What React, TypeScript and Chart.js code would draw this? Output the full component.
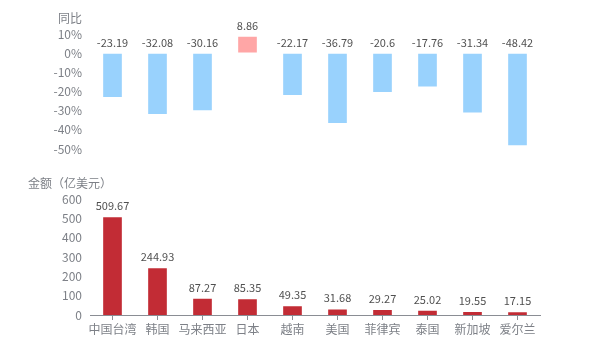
import React, { useEffect, useRef } from "react";
import { Chart, registerables } from "chart.js";

Chart.register(...registerables);

const categories = ["中国台湾", "韩国", "马来西亚", "日本", "越南", "美国", "菲律宾", "泰国", "新加坡", "爱尔兰"];
const yoyValues = [-23.19, -32.08, -30.16, 8.86, -22.17, -36.79, -20.6, -17.76, -31.34, -48.42];
const amountValues = [509.67, 244.93, 87.27, 85.35, 49.35, 31.68, 29.27, 25.02, 19.55, 17.15];
const yoyTitle = "同比";
const amountTitle = "金额（亿美元）";

const FONT = "'Noto Sans CJK SC', 'Noto Sans', sans-serif";
const TICK_COLOR = "#7d8087";
const LABEL_COLOR = "#505050";

const valueLabels = {
  id: "valueLabels",
  afterDatasetsDraw(chart: any) {
    const ctx = chart.ctx;
    const meta = chart.getDatasetMeta(0);
    const data = chart.data.datasets[0].data as number[];
    ctx.save();
    ctx.font = `11px ${FONT}`;
    ctx.fillStyle = LABEL_COLOR;
    ctx.textAlign = "center";
    ctx.textBaseline = "alphabetic";
    meta.data.forEach((el: any, i: number) => {
      const top = Math.min(el.y, el.base);
      ctx.fillText(String(data[i]), el.x, top - 6.5);
    });
    ctx.restore();
  },
};

function yAxis(min: number, max: number, step: number, suffix: string) {
  return {
    min,
    max,
    border: { display: false },
    grid: { display: false, drawTicks: false },
    ticks: {
      stepSize: step,
      padding: 8,
      color: TICK_COLOR,
      font: { family: FONT, size: 12 },
      callback: (v: any) => v + suffix,
    },
    afterFit: (s: any) => {
      s.width = 90;
    },
  };
}

export default function App() {
  const topRef = useRef<HTMLCanvasElement>(null);
  const botRef = useRef<HTMLCanvasElement>(null);

  useEffect(() => {
    const top = new Chart(topRef.current!, {
      type: "bar",
      data: {
        labels: categories,
        datasets: [
          {
            data: yoyValues,
            backgroundColor: yoyValues.map((v) => (v >= 0 ? "#ffa6a6" : "#99d2fd")),
            borderColor: "rgba(255,255,255,0.55)",
            borderWidth: 1,
            borderSkipped: false,
            barThickness: 20,
          },
        ],
      },
      options: {
        responsive: false,
        animation: false,
        devicePixelRatio: 1,
        layout: { padding: { top: 34, bottom: 21, left: 0, right: 60 } },
        plugins: { legend: { display: false }, tooltip: { enabled: false } },
        scales: {
          x: { display: false },
          y: yAxis(-50, 10, 10, "%") as any,
        },
      },
      plugins: [valueLabels],
    });

    const bot = new Chart(botRef.current!, {
      type: "bar",
      data: {
        labels: categories,
        datasets: [
          {
            data: amountValues,
            backgroundColor: "#c22c35",
            borderColor: "rgba(255,255,255,0.4)",
            borderWidth: 1,
            borderSkipped: "bottom",
            barThickness: 20,
          },
        ],
      },
      options: {
        responsive: false,
        animation: false,
        devicePixelRatio: 1,
        layout: { padding: { top: 29, bottom: 0, left: 0, right: 60 } },
        plugins: { legend: { display: false }, tooltip: { enabled: false } },
        scales: {
          x: {
            border: { display: true, color: "#8a8d94", width: 1 },
            grid: {
              offset: false,
              drawOnChartArea: false,
              drawTicks: true,
              tickLength: 5,
              color: "#8a8d94",
            },
            ticks: {
              autoSkip: false,
              maxRotation: 0,
              padding: 2,
              color: TICK_COLOR,
              font: { family: FONT, size: 12 },
            },
            afterFit: (s: any) => {
              s.height = 35;
            },
          } as any,
          y: yAxis(0, 600, 100, "") as any,
        },
      },
      plugins: [valueLabels],
    });

    return () => {
      top.destroy();
      bot.destroy();
    };
  }, []);

  const titleStyle: React.CSSProperties = {
    position: "absolute",
    fontFamily: FONT,
    fontSize: 12,
    color: TICK_COLOR,
    lineHeight: "14px",
    whiteSpace: "nowrap",
  };

  return (
    <div style={{ position: "absolute", left: 0, top: 0, width: 600, height: 350, background: "#fff" }}>
      <canvas ref={topRef} width={600} height={170} style={{ position: "absolute", left: 0, top: 0, width: 600, height: 170 }} />
      <canvas ref={botRef} width={600} height={180} style={{ position: "absolute", left: 0, top: 170, width: 600, height: 180 }} />
      <div style={{ ...titleStyle, left: 58, top: 11 }}>{yoyTitle}</div>
      <div style={{ ...titleStyle, left: 28, top: 176 }}>{amountTitle}</div>
    </div>
  );
}
